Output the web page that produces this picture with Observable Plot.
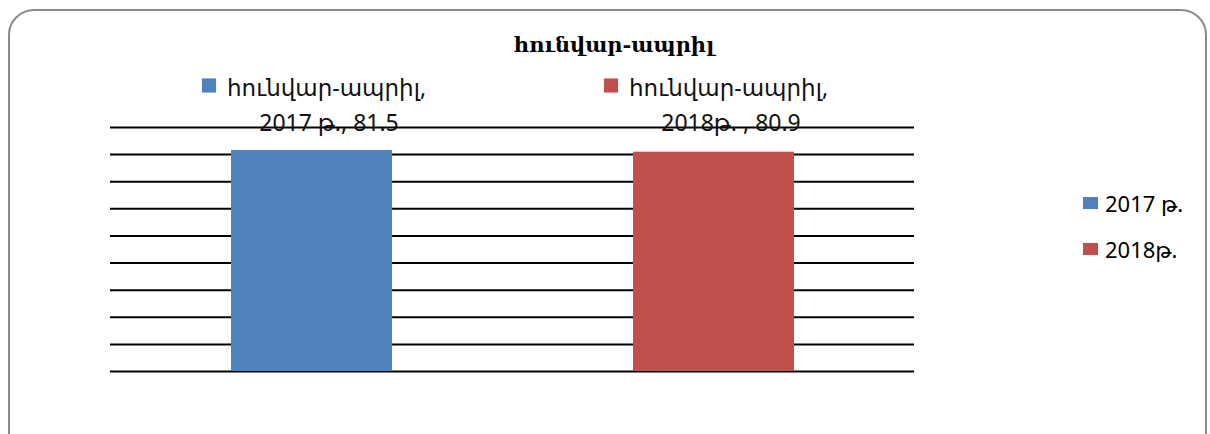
<!DOCTYPE html>
<html>
<head>
<meta charset="utf-8">
<script src="https://cdn.jsdelivr.net/npm/d3@7"></script>
<script src="https://cdn.jsdelivr.net/npm/@observablehq/plot@0.6"></script>
<style>
  html, body { margin: 0; padding: 0; background: #fff; }
  #wrap { position: relative; width: 1210px; height: 434px; overflow: hidden; font-family: "Noto Sans", "DejaVu Sans", sans-serif; }
  #frame { position: absolute; left: 8px; top: 9px; width: 1199px; height: 450px; border: 2px solid #8a8a8a; border-radius: 26px; box-sizing: border-box; }
  #title { position: absolute; left: 0; width: 1228px; top: 32px; text-align: center; font-family: "DejaVu Serif", serif; font-weight: bold; font-size: 21px; color: #000; }
  #legend { position: absolute; left: 1083px; top: 180px; font-size: 22px; color: #000; }
  #legend div { display: flex; align-items: center; height: 46px; }
  #legend span.sw { display: inline-block; width: 15px; height: 12px; margin-right: 7px; }
  #chart { position: absolute; left: 0; top: 0; }
</style>
</head>
<body>
<div id="wrap">
  <div id="frame"></div>
  <div id="chart"></div>
  <div id="title"></div>
  <div id="legend"></div>
</div>
<script>
const titleText = "հունվար-ապրիլ";
const categories = ["2017 թ.", "2018թ."];
const values = [81.5, 80.9];
const labelLine1 = ["հունվար-ապրիլ,", "հունվար-ապրիլ,"];
const labelLine2 = ["2017 թ., 81.5", "2018թ. , 80.9"];
const colors = ["#4f81bd", "#c0504d"];
const gridTicks = [0, 10, 20, 30, 40, 50, 60, 70, 80, 90];

const data = categories.map((c, i) => ({cat: c, value: values[i], l1: labelLine1[i], l2: labelLine2[i]}));

document.getElementById("title").textContent = titleText;
const legend = document.getElementById("legend");
categories.forEach((c, i) => {
  const row = document.createElement("div");
  const sw = document.createElement("span");
  sw.className = "sw";
  sw.style.background = colors[i];
  row.appendChild(sw);
  row.appendChild(document.createTextNode(c));
  legend.appendChild(row);
});

const chart = Plot.plot({
  width: 1210,
  height: 434,
  marginLeft: 110,
  marginRight: 296,
  marginTop: 127,
  marginBottom: 63,
  style: {background: "transparent", fontFamily: "'Noto Sans', 'DejaVu Sans', sans-serif"},
  x: {domain: categories, axis: null, paddingInner: 0.6, paddingOuter: 0.3},
  y: {domain: [0, 90], axis: null},
  color: {domain: categories, range: colors},
  marks: [
    Plot.ruleY(gridTicks, {stroke: "#000", strokeWidth: 2}),
    Plot.barY(data, {x: "cat", y: "value", fill: "cat"}),
    Plot.dot(data, {x: "cat", frameAnchor: "top", dx: -103, dy: -42, symbol: "square", r: 8, fill: "cat", stroke: null}),
    Plot.text(data, {x: "cat", frameAnchor: "top", text: "l1", dx: -85, dy: -48, textAnchor: "start", fontSize: 23, fill: "#111"}),
    Plot.text(data, {x: "cat", frameAnchor: "top", text: "l2", dx: 17, dy: -13, textAnchor: "middle", fontSize: 23, fill: "#111"})
  ]
});
document.getElementById("chart").appendChild(chart);
</script>
</body>
</html>
